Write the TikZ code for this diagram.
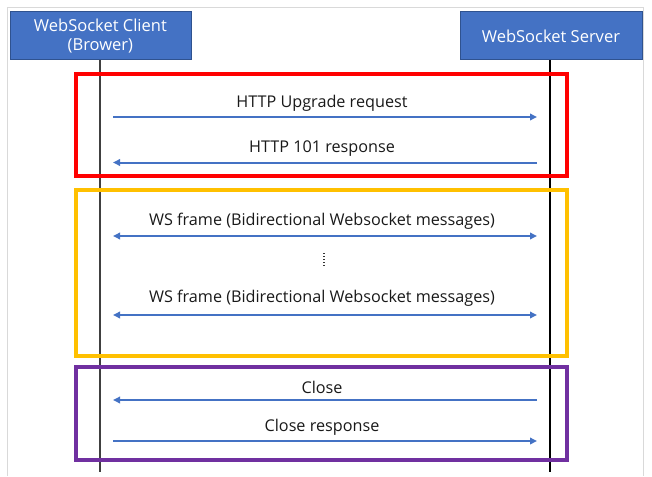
\documentclass[tikz,border=0pt]{standalone}
\usepackage{fontspec}
\setmainfont{Open Sans}
\usetikzlibrary{arrows.meta}
\definecolor{boxblue}{HTML}{4472C4}
\definecolor{boxedge}{HTML}{2F528F}
\definecolor{arrblue}{HTML}{4472C4}
\definecolor{frRed}{HTML}{FF0000}
\definecolor{frYellow}{HTML}{FFC000}
\definecolor{frPurple}{HTML}{7030A0}
\definecolor{outer}{HTML}{D9D9D9}
\tikzset{
  actor/.style={draw=boxedge, line width=0.8pt, fill=boxblue, text=white, font=\fontsize{16.5}{19}\selectfont, align=center, inner sep=0pt, anchor=north west},
  lifeline/.style={line width=1.3pt},
  msg/.style={draw=arrblue, line width=2pt, -{Triangle[length=7pt,width=6.5pt]}},
  bimsg/.style={draw=arrblue, line width=2pt, {Triangle[length=7pt,width=6.5pt]}-{Triangle[length=7pt,width=6.5pt]}},
  lbl/.style={font=\fontsize{16.2}{19}\selectfont, inner sep=0pt, text=black!90},
  frame/.style={line width=4pt},
}
\begin{document}
\begin{tikzpicture}[x=1pt,y=-1pt]
\useasboundingbox (0,0) rectangle (652,476);
% outer light border
\draw[outer, line width=1pt] (7.5,476) -- (7.5,7.5) -- (643.5,7.5) -- (643.5,476);
% actors
\node[actor, minimum width=181pt, minimum height=48pt] (client) at (9.5,11.5) {WebSocket Client\\(Brower)};
\node[actor, minimum width=182pt, minimum height=48pt] (server) at (459.5,11.5) {WebSocket Server};
% lifelines
\coordinate (cend) at (100,472);
\coordinate (send) at (550,472);
\draw[lifeline, black!75] (client.south -| cend) -- (cend);
\draw[lifeline, black] (server.south -| send) -- (send);
% frames
\draw[frame, frRed] (76,74) rectangle (567,176);
\draw[frame, frYellow] (76,190) rectangle (567,356);
\draw[frame, frPurple] (76,367) rectangle (567,460);
% message end points
\coordinate (a1) at (113,117); \coordinate (b1) at (537,117);
\coordinate (a2) at (113,162.5); \coordinate (b2) at (537,162.5);
\coordinate (a3) at (113,236); \coordinate (b3) at (537,236);
\coordinate (a4) at (113,315); \coordinate (b4) at (537,315);
\coordinate (a5) at (113,400); \coordinate (b5) at (537,400);
\coordinate (a6) at (113,441); \coordinate (b6) at (537,441);
\draw[msg] (a1) -- (b1);
\draw[msg] (b2) -- (a2);
\draw[bimsg] (a3) -- (b3);
\draw[bimsg] (a4) -- (b4);
\draw[msg] (b5) -- (a5);
\draw[msg] (a6) -- (b6);
% labels
\node[lbl] (t1) at (322,103) {HTTP Upgrade request};
\node[lbl] (t2) at (322,149) {HTTP 101 response};
\node[lbl] (t3) at (322,221) {WS frame (Bidirectional Websocket messages)};
\node[lbl] (t4) at (322,298) {WS frame (Bidirectional Websocket messages)};
\node[lbl] (t5) at (322,387) {Close};
\node[lbl] (t6) at (322,427) {Close response};
% ellipsis dots
\coordinate (d1) at (324,253);
\coordinate (d2) at (324,267);
\draw[line width=1.1pt, dash pattern=on 1.1pt off 1.9pt, black!80] (d1) -- (d2);
\end{tikzpicture}
\end{document}
